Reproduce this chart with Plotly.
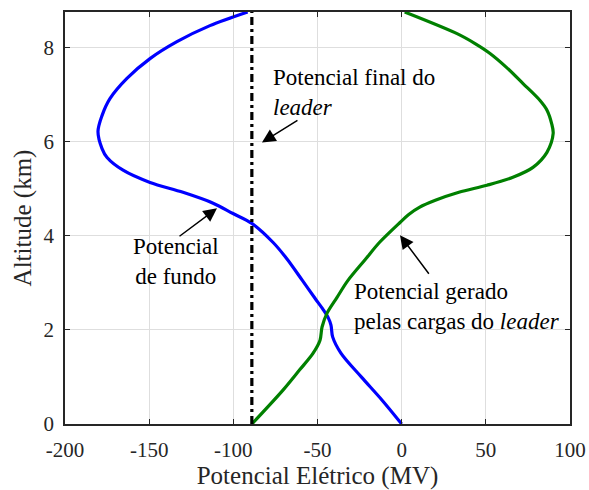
import plotly.graph_objects as go

# Background potential (blue)
bg_altitude = [0.0, 0.5, 1.0, 1.5, 1.85, 2.1, 2.27, 2.45, 2.67, 3.05, 3.5, 3.86, 4.26,
               4.47, 4.69, 4.92, 5.13, 5.39, 5.66, 5.85, 6.21, 6.55, 6.91, 7.34, 7.76,
               8.12, 8.46, 8.75]
bg_potential = [0.0, -11.5, -24.0, -36.0, -41.0, -42.0, -43.8, -47.0, -51.5, -59.0, -68.0,
                -76.5, -89.0, -100.2, -112.0, -129.9, -149.5, -165.5, -175.0, -178.0,
                -180.4, -178.0, -173.3, -163.2, -149.5, -133.5, -113.9, -91.5]

# Potential generated by the leader charges (green)
ld_altitude = [0.0, 0.72, 1.15, 1.5, 1.78, 2.06, 2.35, 2.69, 3.05, 3.5, 3.86, 4.28, 4.45,
               4.6, 4.75, 4.92, 5.07, 5.24, 5.45, 5.77, 6.17, 6.38, 6.66, 6.87, 7.23, 7.57,
               7.87, 8.08, 8.29, 8.75]
ld_potential = [-89.0, -70.5, -60.6, -52.7, -48.5, -47.3, -44.4, -38.4, -31.9, -21.5, -13.1,
                -1.0, 4.2, 10.5, 20.0, 34.0, 50.7, 66.1, 78.0, 86.3, 90.0, 89.1, 86.4, 82.2,
                72.1, 62.4, 52.5, 43.6, 32.9, 1.8]

# Final leader potential (dash-dot)
final_altitude = [0.0, 8.75]
final_potential = [-89.0, -89.0]

x_tick_vals = [-200, -150, -100, -50, 0, 50, 100]
x_tick_text = ["-200", "-150", "-100", "-50", "0", "50", "100"]
y_tick_vals = [0, 2, 4, 6, 8]
y_tick_text = ["0", "2", "4", "6", "8"]

FONT = "Liberation Serif"
AX = "#262626"

fig = go.Figure()
fig.add_trace(go.Scatter(x=bg_potential, y=bg_altitude, mode="lines",
                         line=dict(color="#0000ff", width=3.2, shape="spline", smoothing=0.9),
                         showlegend=False, hoverinfo="skip"))
fig.add_trace(go.Scatter(x=ld_potential, y=ld_altitude, mode="lines",
                         line=dict(color="#008000", width=3.2, shape="spline", smoothing=0.9),
                         showlegend=False, hoverinfo="skip"))
fig.add_trace(go.Scatter(x=final_potential, y=final_altitude, mode="lines",
                         line=dict(color="black", width=3.2, dash="8px,4px,3px,4px"),
                         showlegend=False, hoverinfo="skip"))

axis_common = dict(
    showline=True, linecolor=AX, linewidth=1.5, mirror="ticks",
    ticks="inside", ticklen=5, tickwidth=1.2, tickcolor=AX,
    showgrid=True, gridcolor="#dedede", gridwidth=1, zeroline=False,
    tickfont=dict(family=FONT, size=21, color=AX),
    automargin=False,
)

fig.update_xaxes(range=[-200, 100], tickvals=x_tick_vals, ticktext=x_tick_text,
                 ticklabelstandoff=6,
                 title=dict(text="Potencial Elétrico (MV)", font=dict(family=FONT, size=25, color=AX),
                            standoff=4),
                 **axis_common)
fig.update_yaxes(range=[0, 8.75], tickvals=y_tick_vals, ticktext=y_tick_text,
                 ticklabelstandoff=5,
                 title=dict(text="Altitude (km)", font=dict(family=FONT, size=25, color=AX),
                            standoff=5),
                 **axis_common)

ann_font = dict(family=FONT, size=23, color="black")
annotations = [
    dict(x=-77.6, y=7.04, text="Potencial final do<br><i>leader</i>", showarrow=False,
         xanchor="left", yanchor="middle", align="left", font=ann_font),
    dict(x=-134.1, y=3.46, text="Potencial<br>de fundo", showarrow=False,
         xanchor="center", yanchor="middle", align="center", font=ann_font),
    dict(x=-29.5, y=2.50, text="Potencial gerado<br>pelas cargas do <i>leader</i>", showarrow=False,
         xanchor="left", yanchor="middle", align="left", font=ann_font),
    dict(x=-83.0, y=5.98, text="", showarrow=True, ax=37, ay=-23,
         arrowhead=2, arrowsize=1.8, arrowwidth=1.5, arrowcolor="black"),
    dict(x=-109.7, y=4.58, text="", showarrow=True, ax=-39, ay=29,
         arrowhead=2, arrowsize=1.8, arrowwidth=1.5, arrowcolor="black"),
    dict(x=-1.0, y=4.01, text="", showarrow=True, ax=30, ay=40,
         arrowhead=2, arrowsize=1.8, arrowwidth=1.5, arrowcolor="black"),
]

fig.update_layout(
    width=589, height=490,
    margin=dict(l=65, r=19, t=12, b=66),
    paper_bgcolor="white", plot_bgcolor="white",
    font=dict(family=FONT),
    annotations=annotations,
)

fig.write_html("out.html", config={"displayModeBar": False},
               post_script="document.body.style.margin='0';document.body.style.overflow='hidden';")
